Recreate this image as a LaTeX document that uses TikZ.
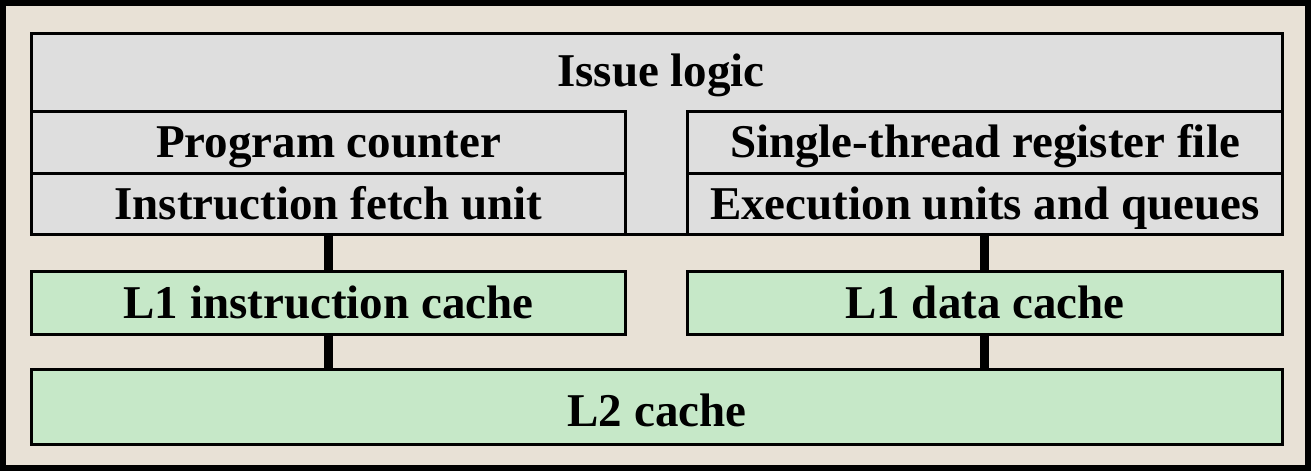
\documentclass[tikz,border=0pt]{standalone}
\usepackage{fontspec}
\setmainfont{Liberation Serif}
\definecolor{bgbeige}{HTML}{E8E1D6}
\definecolor{boxgray}{HTML}{DEDEDE}
\definecolor{boxgreen}{HTML}{C6E8C8}
\begin{document}
\begin{tikzpicture}[x=1pt,y=-1pt,
  box/.style={draw=black, line width=3pt, inner sep=0pt, anchor=north west,
    font=\fontsize{47}{52}\selectfont\bfseries, text height=35pt, text depth=5pt},
  graybox/.style={box, fill=boxgray},
  greenbox/.style={box, fill=boxgreen},
  conn/.style={draw=black, line width=9pt},
  lbl/.style={inner sep=0pt, font=\fontsize{47}{52}\selectfont\bfseries}]
\useasboundingbox (0,0) rectangle (1311,471);
% outer frame
\draw[line width=6pt, fill=bgbeige] (3,3) rectangle (1307.5,468);
% issue logic frame
\node[graybox, minimum width=1251pt, minimum height=201pt] (frame) at (30,32) {};
\node[lbl] (issue) at (661,75) {Issue logic};
% left column
\node[graybox, minimum width=594pt, minimum height=62pt] (pc) at (30,110) {Program counter};
\node[graybox, minimum width=594pt, minimum height=61pt] (ifu) at (30,172) {Instruction fetch unit};
% right column
\node[graybox, minimum width=595pt, minimum height=62pt] (rf) at (686,110) {Single-thread register file};
\node[graybox, minimum width=595pt, minimum height=61pt] (eu) at (686,172) {Execution units and queues};
% caches
\node[greenbox, minimum width=594pt, minimum height=63pt] (l1i) at (30,270) {L1 instruction cache};
\node[greenbox, minimum width=595pt, minimum height=63pt] (l1d) at (686,270) {L1 data cache};
\node[greenbox, minimum width=1251pt, minimum height=75pt, text height=39pt, text depth=1pt] (l2) at (30,368) {L2 cache};
% connectors
\coordinate (cl) at (328,0);
\coordinate (cr) at (984,0);
\draw[conn] (ifu.south -| cl) -- (l1i.north -| cl);
\draw[conn] (l1i.south -| cl) -- (l2.north -| cl);
\draw[conn] (eu.south -| cr) -- (l1d.north -| cr);
\draw[conn] (l1d.south -| cr) -- (l2.north -| cr);
\end{tikzpicture}
\end{document}
